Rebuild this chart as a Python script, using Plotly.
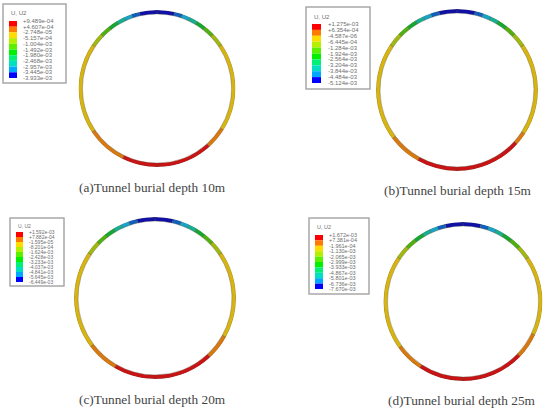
import plotly.graph_objects as go

# contour values
labels_a = ["+9.489e-04", "+4.607e-04", "-2.748e-05", "-5.157e-04", "-1.004e-03", "-1.492e-03",
            "-1.980e-03", "-2.468e-03", "-2.957e-03", "-3.445e-03", "-3.933e-03"]
labels_b = ["+1.275e-03", "+6.354e-04", "-4.587e-06", "-6.445e-04", "-1.284e-03", "-1.924e-03",
            "-2.564e-03", "-3.204e-03", "-3.844e-03", "-4.484e-03", "-5.124e-03"]
labels_c = ["+1.592e-03", "+7.882e-04", "-1.595e-05", "-8.201e-04", "-1.624e-03", "-2.428e-03",
            "-3.233e-03", "-4.037e-03", "-4.841e-03", "-5.645e-03", "-6.449e-03"]
labels_d = ["+1.672e-03", "+7.381e-04", "-1.961e-04", "-1.130e-03", "-2.065e-03", "-2.999e-03",
            "-3.933e-03", "-4.867e-03", "-5.801e-03", "-6.736e-03", "-7.670e-03"]

captions = ["(a)Tunnel burial depth 10m", "(b)Tunnel burial depth 15m",
            "(c)Tunnel burial depth 20m", "(d)Tunnel burial depth 25m"]

# where each contour band ends, degrees from the crown, blue band first
crown_ends = [13, 19, 25, 31, 38, 46, 56]
# yellow and orange band ends differ a little between the two sides of the ring
lower_ends_a_right = [122, 138, 180]
lower_ends_a_left = [124, 154, 180]
lower_ends_b_right = [123, 132, 180]
lower_ends_b_left = [127, 151, 180]
lower_ends_c_right = [119, 137, 180]
lower_ends_c_left = [127, 150, 180]
lower_ends_d_right = [115, 134, 180]
lower_ends_d_left = [126, 147, 180]

ring_colors = ["#1010a8", "#1060c0", "#18a4c8", "#14b090", "#14a830",
               "#50b010", "#a0b810", "#d8b410", "#d87810", "#c81414"]
swatch_colors = ["#ff0000", "#ff7a00", "#ffdc00", "#b4f000", "#5cf000",
                 "#00f000", "#00f078", "#00e0c0", "#00a8ff", "#0000ff"]

W, H = 550, 410
GREY = "#6e6e6e"

# pixel layout: ring (cx, cy, radius), legend box, swatch column, label x, title y, caption
panels = [
    dict(ring=(157, 88.5, 78.5), box=(3, 4, 66, 83), sw=(9, 17, 21, 78), lx=22, ty=13,
         cap=(152, 188), labels=labels_a, right=lower_ends_a_right, left=lower_ends_a_left, fs=6),
    dict(ring=(457, 90, 81), box=(306, 7, 370, 89), sw=(312, 321, 24, 83), lx=327, ty=17,
         cap=(458, 190), labels=labels_b, right=lower_ends_b_right, left=lower_ends_b_left, fs=6),
    dict(ring=(155, 298, 81), box=(10, 218, 64, 286), sw=(16, 23, 232, 282), lx=28, ty=226,
         cap=(152, 399), labels=labels_c, right=lower_ends_c_right, left=lower_ends_c_left, fs=5),
    dict(ring=(463, 301.5, 79.5), box=(309, 218, 369, 294), sw=(315, 323, 235, 289), lx=328, ty=227,
         cap=(462, 400), labels=labels_d, right=lower_ends_d_right, left=lower_ends_d_left, fs=5.5),
]

fig = go.Figure()
shapes, notes = [], []
polar_layout = {}


def px(x):
    return x / W


def py(y):
    return 1 - y / H


for i, p in enumerate(panels):
    name = "polar" if i == 0 else f"polar{i + 1}"
    cx, cy, r = p["ring"]
    polar_layout[name] = dict(
        domain=dict(x=[px(cx - r), px(cx + r)], y=[py(cy + r), py(cy - r)]),
        bgcolor="rgba(0,0,0,0)",
        radialaxis=dict(visible=False, range=[0, 1]),
        angularaxis=dict(visible=False, direction="clockwise", rotation=90),
    )

    for side, lower in ((1, p["right"]), (-1, p["left"])):
        ends = crown_ends + lower
        starts = [0] + ends[:-1]
        mid = [(a + b) / 2 for a, b in zip(starts, ends)]
        span = [b - a for a, b in zip(starts, ends)]
        fig.add_trace(go.Barpolar(
            theta=[side * m for m in mid], width=span,
            r=[0.05] * len(mid), base=0.95,
            marker=dict(color=ring_colors, line=dict(color="rgba(80,80,60,0.7)", width=0.5)),
            subplot=name, showlegend=False, hoverinfo="skip",
        ))

    x0, y0, x1, y1 = p["box"]
    shapes.append(dict(type="rect", xref="paper", yref="paper", x0=px(x0), x1=px(x1),
                       y0=py(y0), y1=py(y1), line=dict(color="#a8a8a8", width=1.5),
                       fillcolor="white"))
    notes.append(dict(x=px(p["sw"][0]), y=py(p["ty"]), text="U, U2", showarrow=False,
                      xref="paper", yref="paper", xanchor="left", yanchor="middle",
                      font=dict(size=p["fs"], color=GREY, family="Liberation Sans")))

    sx0, sx1, sy0, sy1 = p["sw"]
    step = (sy1 - sy0) / len(swatch_colors)
    for k, c in enumerate(swatch_colors):
        shapes.append(dict(type="rect", xref="paper", yref="paper", x0=px(sx0), x1=px(sx1),
                           y0=py(sy0 + k * step), y1=py(sy0 + (k + 1) * step),
                           line=dict(width=0), fillcolor=c))
    for k, t in enumerate(p["labels"]):
        notes.append(dict(x=px(p["lx"]), y=py(sy0 + k * step), text=t, showarrow=False,
                          xref="paper", yref="paper", xanchor="left", yanchor="middle",
                          borderpad=0, font=dict(size=p["fs"], color=GREY, family="Liberation Sans")))

    notes.append(dict(x=px(p["cap"][0]), y=py(p["cap"][1]), text=captions[i], showarrow=False,
                      xref="paper", yref="paper", xanchor="center", yanchor="middle",
                      font=dict(size=13.3, color="#444444", family="Liberation Serif")))

fig.update_layout(
    width=W, height=H, margin=dict(l=0, r=0, t=0, b=0),
    paper_bgcolor="white", plot_bgcolor="white", showlegend=False,
    shapes=shapes, annotations=notes, **polar_layout,
)
# the page's default body margin would push the figure 8px off the corner
fig.write_html("out.html", config=dict(displayModeBar=False),
               post_script="document.body.style.margin='0';")
